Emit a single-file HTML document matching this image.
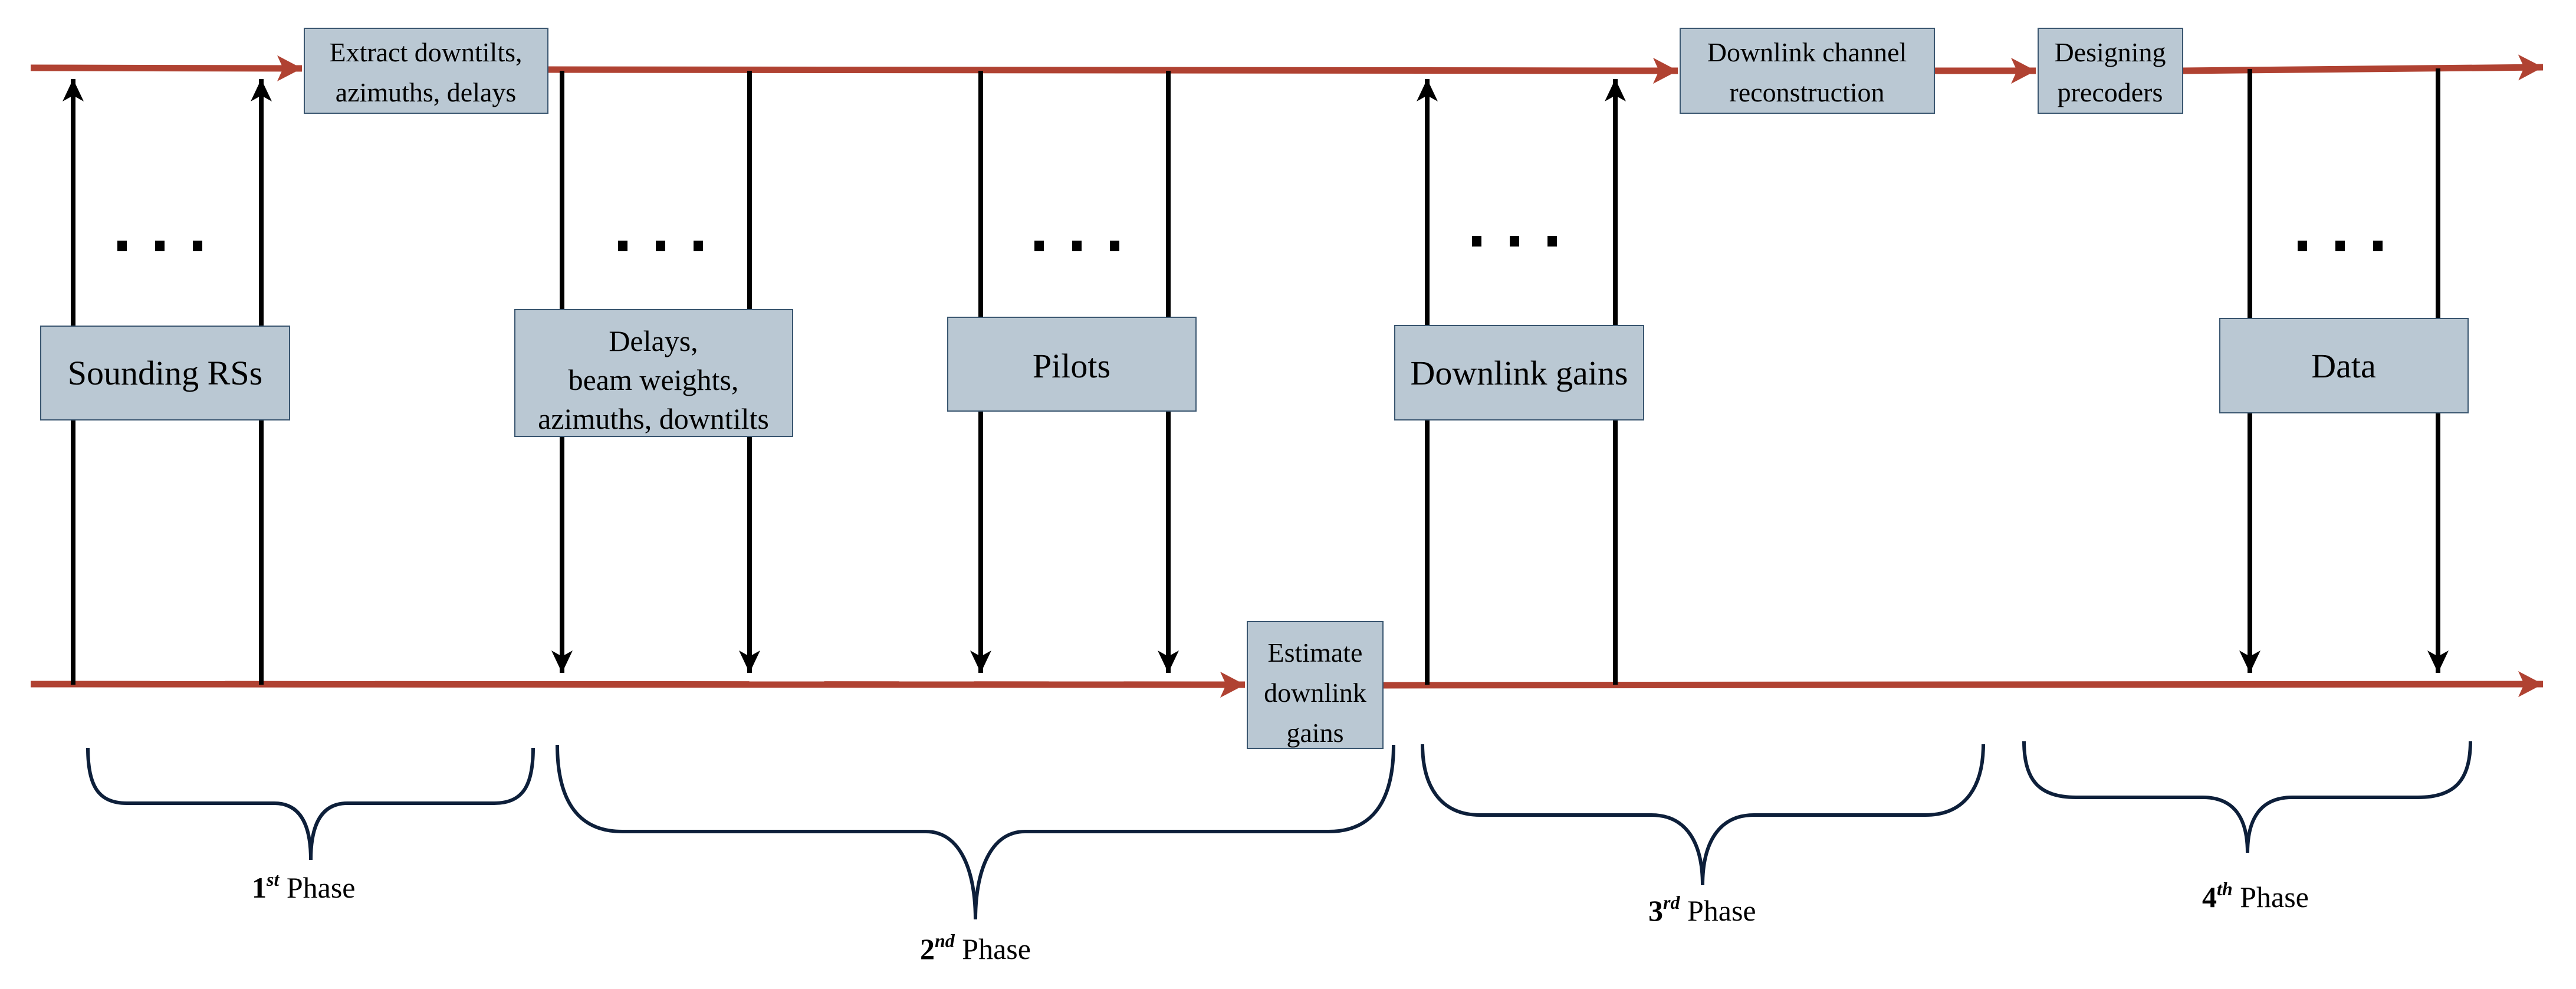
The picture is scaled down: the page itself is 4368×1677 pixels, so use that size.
<!DOCTYPE html>
<html><head><meta charset="utf-8"><style>
html,body{margin:0;padding:0;background:#fff;}
svg{display:block;}
text{font-family:"Liberation Serif",serif;fill:#000;}
</style></head><body>
<svg width="4368" height="1677" viewBox="0 0 4368 1677" xmlns="http://www.w3.org/2000/svg">
<defs>
<marker id="ra" markerUnits="userSpaceOnUse" markerWidth="44" markerHeight="44" refX="42" refY="22" orient="auto"><path d="M0,0 L42,22 L0,44 L10,22 Z" fill="#b04232"/></marker>
<marker id="ba" markerUnits="userSpaceOnUse" markerWidth="40" markerHeight="40" refX="38" refY="20" orient="auto"><path d="M0,2 L38,20 L0,38 L10,20 Z" fill="#000"/></marker>
</defs>
<g stroke="#b04232" stroke-width="11" fill="none">
<line x1="52" y1="115" x2="512" y2="116" marker-end="url(#ra)"/>
<line x1="929" y1="118" x2="2845" y2="120" marker-end="url(#ra)"/>
<line x1="3280" y1="120" x2="3452" y2="120" marker-end="url(#ra)"/>
<line x1="3701" y1="120" x2="4312" y2="114" marker-end="url(#ra)"/>
<line x1="52" y1="1160" x2="2111" y2="1161" marker-end="url(#ra)"/>
<line x1="2345" y1="1162" x2="4312" y2="1160" marker-end="url(#ra)"/>
</g>
<g stroke="#000" stroke-width="8" fill="none">
<line x1="124" y1="1161" x2="124" y2="134" marker-end="url(#ba)"/>
<line x1="443" y1="1161" x2="443" y2="134" marker-end="url(#ba)"/>
<line x1="2420" y1="1161" x2="2420" y2="134" marker-end="url(#ba)"/>
<line x1="2739" y1="1161" x2="2739" y2="134" marker-end="url(#ba)"/>
<line x1="953" y1="120" x2="953" y2="1141" marker-end="url(#ba)"/>
<line x1="1271" y1="120" x2="1271" y2="1141" marker-end="url(#ba)"/>
<line x1="1663" y1="120" x2="1663" y2="1141" marker-end="url(#ba)"/>
<line x1="1981" y1="120" x2="1981" y2="1141" marker-end="url(#ba)"/>
<line x1="3815" y1="117" x2="3815" y2="1141" marker-end="url(#ba)"/>
<line x1="4134" y1="116" x2="4134" y2="1141" marker-end="url(#ba)"/>
</g>
<g fill="#000">
<rect x="199" y="408" width="16" height="18"/><rect x="263" y="408" width="16" height="18"/><rect x="327" y="408" width="16" height="18"/>
<rect x="1048" y="408" width="16" height="18"/><rect x="1112" y="408" width="16" height="18"/><rect x="1176" y="408" width="16" height="18"/>
<rect x="1754" y="408" width="16" height="18"/><rect x="1818" y="408" width="16" height="18"/><rect x="1882" y="408" width="16" height="18"/>
<rect x="2496" y="400" width="16" height="18"/><rect x="2560" y="400" width="16" height="18"/><rect x="2624" y="400" width="16" height="18"/>
<rect x="3896" y="408" width="16" height="18"/><rect x="3960" y="408" width="16" height="18"/><rect x="4024" y="408" width="16" height="18"/>
</g>
<g fill="#bac8d3" stroke="#3a5670" stroke-width="2">
<rect x="516" y="48" width="413" height="144"/>
<rect x="69" y="553" width="422" height="159"/>
<rect x="873" y="525" width="471" height="215"/>
<rect x="1607" y="538" width="421" height="159"/>
<rect x="2115" y="1054" width="230" height="215"/>
<rect x="2365" y="552" width="422" height="160"/>
<rect x="2849" y="48" width="431" height="144"/>
<rect x="3456" y="48" width="245" height="144"/>
<rect x="3764" y="540" width="421" height="160"/>
</g>
<g text-anchor="middle" font-size="46">
<text x="722" y="104">Extract downtilts,</text>
<text x="722" y="172">azimuths, delays</text>
<text x="280" y="652" font-size="58">Sounding RSs</text>
<text x="1108" y="595" font-size="50">Delays,</text>
<text x="1108" y="661" font-size="50">beam weights,</text>
<text x="1108" y="727" font-size="50">azimuths, downtilts</text>
<text x="1817" y="640" font-size="58">Pilots</text>
<text x="2230" y="1122">Estimate</text>
<text x="2230" y="1190">downlink</text>
<text x="2230" y="1258">gains</text>
<text x="2576" y="652" font-size="58">Downlink gains</text>
<text x="3064" y="104">Downlink channel</text>
<text x="3064" y="172">reconstruction</text>
<text x="3578" y="104">Designing</text>
<text x="3578" y="172">precoders</text>
<text x="3974" y="640" font-size="58">Data</text>
</g>
<g fill="none" stroke="#0d1f3a" stroke-width="6">
<path d="M149,1268 C149,1330 165,1362 215,1362 L465,1362 C510,1362 527,1400 527,1458 C527,1400 544,1362 589,1362 L838,1362 C888,1362 904,1330 904,1268"/>
<path d="M945,1263 C945,1350 975,1410 1055,1410 L1570,1410 C1630,1410 1654,1480 1654,1559 C1654,1480 1678,1410 1738,1410 L2253,1410 C2333,1410 2363,1350 2363,1263"/>
<path d="M2412,1262 C2412,1330 2440,1382 2510,1382 L2800,1382 C2860,1382 2887,1430 2887,1501 C2887,1430 2914,1382 2974,1382 L3265,1382 C3335,1382 3363,1330 3363,1262"/>
<path d="M3432,1257 C3432,1320 3455,1352 3520,1352 L3735,1352 C3790,1352 3811,1390 3811,1446 C3811,1390 3832,1352 3887,1352 L4100,1352 C4165,1352 4189,1320 4189,1257"/>
</g>
<g font-size="50">
<text x="427" y="1522"><tspan font-weight="bold">1</tspan><tspan font-size="32" font-style="italic" font-weight="bold" dy="-20">st</tspan><tspan dy="20"> Phase</tspan></text>
<text x="1560" y="1626"><tspan font-weight="bold">2</tspan><tspan font-size="32" font-style="italic" font-weight="bold" dy="-20">nd</tspan><tspan dy="20"> Phase</tspan></text>
<text x="2795" y="1561"><tspan font-weight="bold">3</tspan><tspan font-size="32" font-style="italic" font-weight="bold" dy="-20">rd</tspan><tspan dy="20"> Phase</tspan></text>
<text x="3734" y="1538"><tspan font-weight="bold">4</tspan><tspan font-size="32" font-style="italic" font-weight="bold" dy="-20">th</tspan><tspan dy="20"> Phase</tspan></text>
</g>
</svg>
</body></html>
